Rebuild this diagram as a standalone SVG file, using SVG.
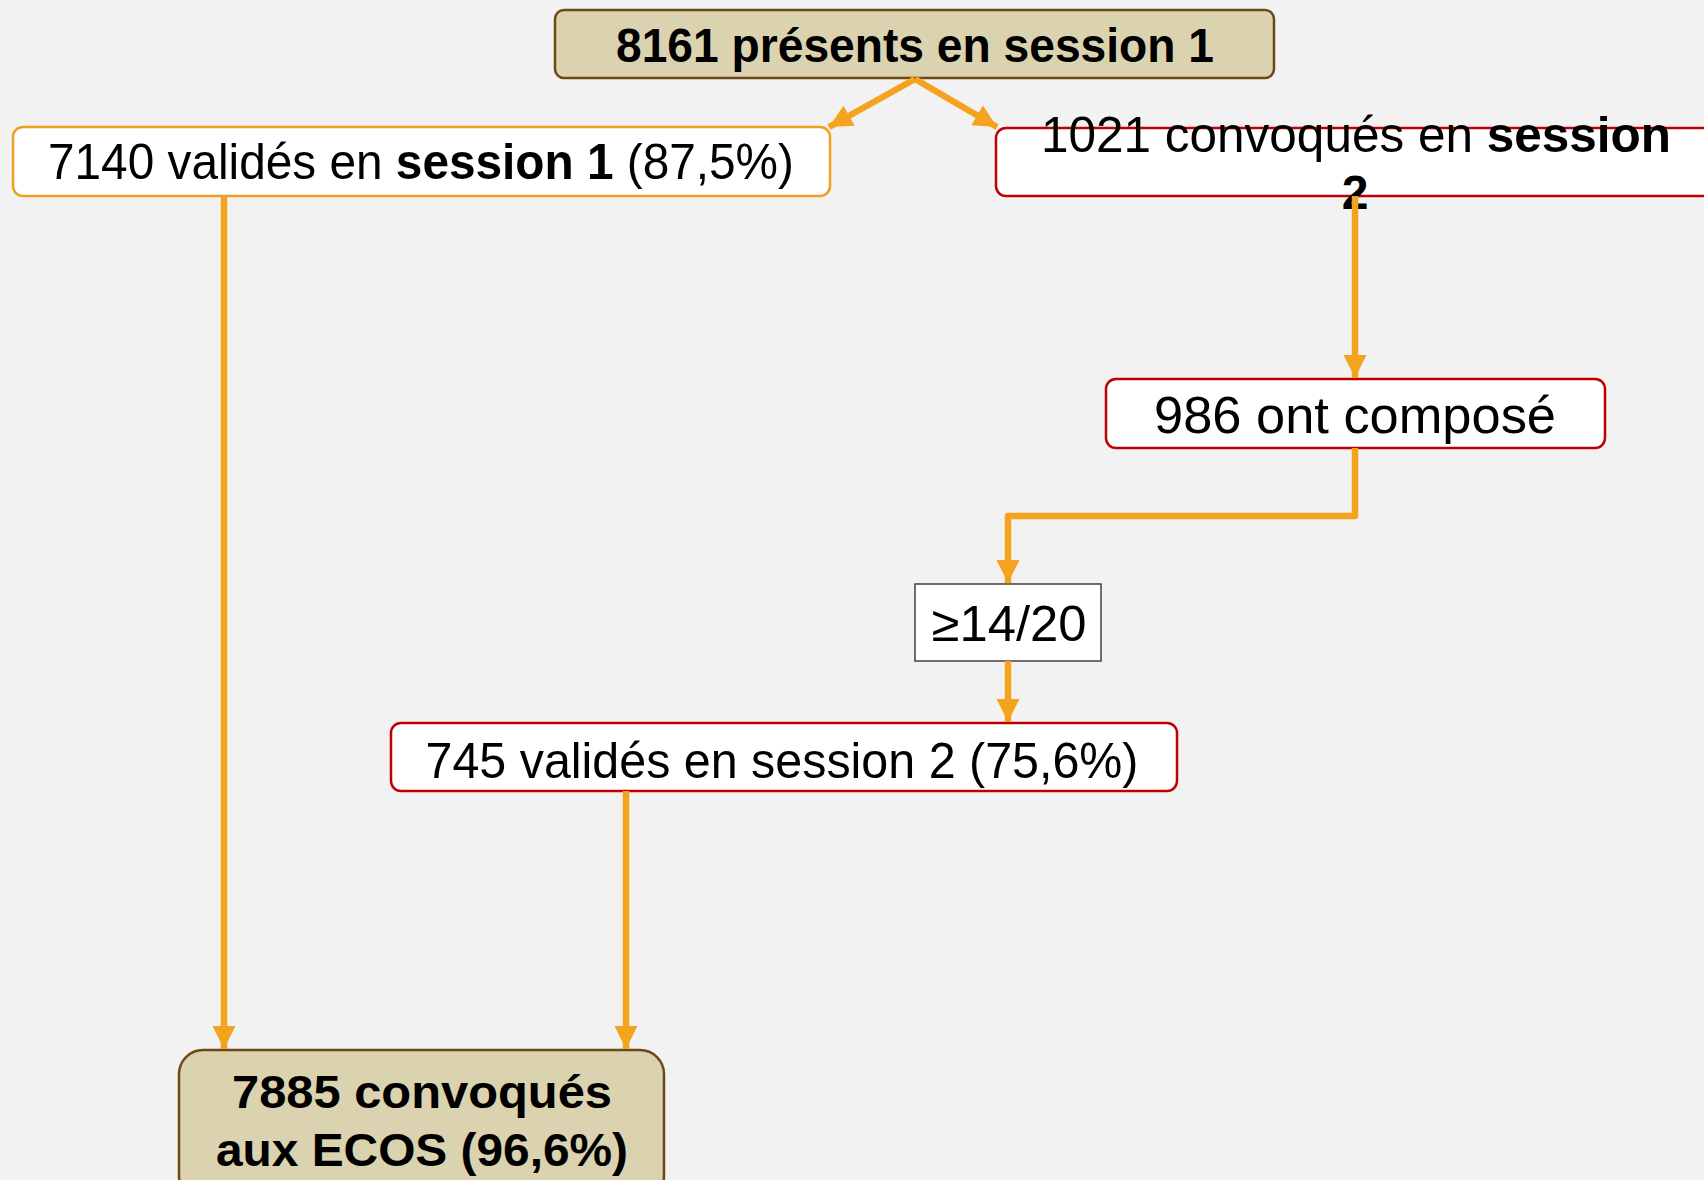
<svg xmlns="http://www.w3.org/2000/svg" width="1704" height="1180" viewBox="0 0 1704 1180">
<style>
.t{font-family:"Liberation Sans",Arial,sans-serif;fill:#000;text-anchor:middle}
.b{font-weight:bold}
.box{fill:#fff;stroke-width:2.5}
.tan{fill:#DBD2B0;stroke:#6B4A14;stroke-width:2.5}
.org{stroke:#F0A020}
.red{stroke:#C00000}
.c{fill:none;stroke:#F4A31F;stroke-width:6.5;stroke-linejoin:round}
</style>
<defs>
<marker id="ah" markerUnits="userSpaceOnUse" markerWidth="26" markerHeight="26" viewBox="0 0 26 26" refX="24" refY="13" orient="auto">
<path d="M1,1.5 L24,13 L1,24.5 Z" fill="#F4A31F"/>
</marker>
</defs>
<rect width="1704" height="1180" fill="#F2F2F2"/>
<g id="n-top">
<rect class="tan" x="555" y="10" width="719" height="68" rx="9"/>
<text class="t b" x="915" y="62" font-size="48" textLength="598" lengthAdjust="spacingAndGlyphs">8161 présents en session 1</text>
</g>
<g id="n-s1">
<rect class="box org" x="13" y="127" width="817" height="69" rx="10"/>
<text class="t" x="421" y="179" font-size="50" textLength="746" lengthAdjust="spacingAndGlyphs">7140 validés en <tspan class="b">session 1</tspan> (87,5%)</text>
</g>
<g id="n-s2">
<rect class="box red" x="996" y="128" width="722" height="68" rx="10"/>
<text class="t" x="1356" y="152" font-size="50" textLength="630" lengthAdjust="spacingAndGlyphs">1021 convoqués en <tspan class="b">session</tspan></text>
<text class="t b" x="1355" y="209" font-size="48">2</text>
</g>
<g id="n-comp">
<rect class="box red" x="1106" y="379" width="499" height="69" rx="10"/>
<text class="t" x="1355" y="433" font-size="52" textLength="402" lengthAdjust="spacingAndGlyphs">986 ont composé</text>
</g>
<g id="n-seuil">
<rect x="915" y="584" width="186" height="77" fill="#fff" stroke="#404040" stroke-width="1.5"/>
<text class="t" x="1009" y="641" font-size="50" textLength="155" lengthAdjust="spacingAndGlyphs">≥14/20</text>
</g>
<g id="n-v2">
<rect class="box red" x="391" y="723" width="786" height="68" rx="10"/>
<text class="t" x="782" y="778" font-size="50" textLength="713" lengthAdjust="spacingAndGlyphs">745 validés en session 2 (75,6%)</text>
</g>
<g id="n-ecos">
<rect class="tan" x="179" y="1050" width="485" height="150" rx="24"/>
<text class="t b" x="422" y="1108" font-size="46" textLength="380" lengthAdjust="spacingAndGlyphs">7885 convoqués</text>
<text class="t b" x="422" y="1166" font-size="46" textLength="412" lengthAdjust="spacingAndGlyphs">aux ECOS (96,6%)</text>
</g>
<g id="connectors">
<path class="c" d="M915,79 L829,127" marker-end="url(#ah)"/>
<path class="c" d="M915,79 L997,127" marker-end="url(#ah)"/>
<path class="c" d="M224,196 L224,1049" marker-end="url(#ah)"/>
<path class="c" d="M1355,196 L1355,378" marker-end="url(#ah)"/>
<path class="c" d="M1355,448 L1355,516 L1008,516 L1008,583" marker-end="url(#ah)"/>
<path class="c" d="M1008,661 L1008,722" marker-end="url(#ah)"/>
<path class="c" d="M626,791 L626,1049" marker-end="url(#ah)"/>
</g>
</svg>
